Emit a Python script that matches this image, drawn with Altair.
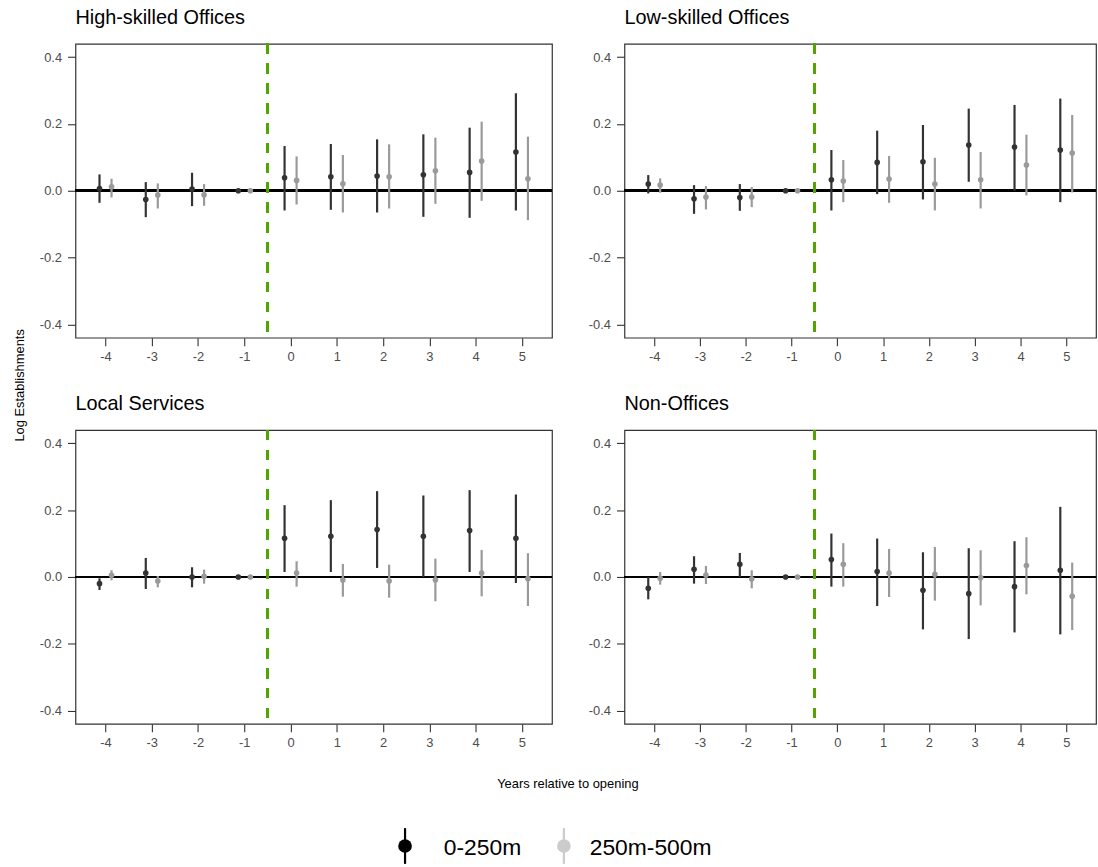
import altair as alt
import pandas as pd

# Event-study estimates: establishments near a new opening, by distance band
years = [-4, -3, -2, -1, 0, 1, 2, 3, 4, 5]
panels = ["High-skilled Offices", "Low-skilled Offices", "Local Services", "Non-Offices"]
groups = ["0-250m", "250m-500m"]

# point estimates, lower and upper 95% bounds (one list per panel and band)
est_hs_near = [0.007, -0.026, 0.005, 0.0, 0.039, 0.042, 0.044, 0.048, 0.055, 0.116]
lo_hs_near = [-0.036, -0.079, -0.046, 0.0, -0.059, -0.057, -0.065, -0.078, -0.081, -0.059]
hi_hs_near = [0.049, 0.026, 0.054, 0.0, 0.134, 0.140, 0.154, 0.169, 0.189, 0.292]
est_hs_far = [0.012, -0.013, -0.012, 0.0, 0.031, 0.021, 0.042, 0.060, 0.089, 0.036]
lo_hs_far = [-0.020, -0.053, -0.045, 0.0, -0.041, -0.065, -0.053, -0.039, -0.030, -0.088]
hi_hs_far = [0.036, 0.022, 0.020, 0.0, 0.103, 0.107, 0.139, 0.159, 0.207, 0.162]

est_ls_near = [0.020, -0.024, -0.020, 0.0, 0.033, 0.085, 0.087, 0.137, 0.131, 0.122]
lo_ls_near = [-0.008, -0.069, -0.060, 0.0, -0.059, -0.010, -0.026, 0.027, 0.000, -0.034]
hi_ls_near = [0.047, 0.017, 0.020, 0.0, 0.122, 0.180, 0.197, 0.246, 0.257, 0.276]
est_ls_far = [0.017, -0.019, -0.019, 0.0, 0.029, 0.035, 0.020, 0.033, 0.077, 0.113]
lo_ls_far = [-0.006, -0.056, -0.049, 0.0, -0.034, -0.036, -0.059, -0.053, -0.014, -0.005]
hi_ls_far = [0.037, 0.014, 0.011, 0.0, 0.092, 0.104, 0.099, 0.116, 0.168, 0.227]

est_lsv_near = [-0.020, 0.012, 0.000, 0.0, 0.116, 0.122, 0.142, 0.122, 0.139, 0.116]
lo_lsv_near = [-0.039, -0.036, -0.031, 0.0, 0.015, 0.015, 0.027, 0.000, 0.015, -0.018]
hi_lsv_near = [-0.004, 0.057, 0.029, 0.0, 0.215, 0.230, 0.257, 0.244, 0.260, 0.247]
est_lsv_far = [0.005, -0.012, 0.002, 0.0, 0.012, -0.009, -0.012, -0.009, 0.012, -0.005]
lo_lsv_far = [-0.010, -0.031, -0.020, 0.0, -0.029, -0.059, -0.062, -0.073, -0.058, -0.087]
hi_lsv_far = [0.020, 0.003, 0.022, 0.0, 0.047, 0.039, 0.037, 0.055, 0.081, 0.071]

est_no_near = [-0.034, 0.023, 0.038, 0.0, 0.052, 0.016, -0.040, -0.050, -0.029, 0.020]
lo_no_near = [-0.067, -0.020, 0.000, 0.0, -0.029, -0.087, -0.157, -0.186, -0.166, -0.172]
hi_no_near = [0.000, 0.062, 0.072, 0.0, 0.130, 0.115, 0.074, 0.086, 0.107, 0.210]
est_no_far = [-0.004, 0.006, -0.006, 0.0, 0.038, 0.012, 0.008, -0.002, 0.034, -0.058]
lo_no_far = [-0.023, -0.021, -0.034, 0.0, -0.029, -0.060, -0.071, -0.085, -0.052, -0.159]
hi_no_far = [0.015, 0.033, 0.020, 0.0, 0.101, 0.084, 0.090, 0.080, 0.119, 0.043]

series = {
    panels[0]: [(est_hs_near, lo_hs_near, hi_hs_near), (est_hs_far, lo_hs_far, hi_hs_far)],
    panels[1]: [(est_ls_near, lo_ls_near, hi_ls_near), (est_ls_far, lo_ls_far, hi_ls_far)],
    panels[2]: [(est_lsv_near, lo_lsv_near, hi_lsv_near), (est_lsv_far, lo_lsv_far, hi_lsv_far)],
    panels[3]: [(est_no_near, lo_no_near, hi_no_near), (est_no_far, lo_no_far, hi_no_far)],
}

rows = []
for panel, bands in series.items():
    for group, (est, lo, hi) in zip(groups, bands):
        for yr, e, l, h in zip(years, est, lo, hi):
            rows.append({"panel": panel, "group": group, "year": yr, "est": e, "lo": l, "hi": h})
df = pd.DataFrame(rows)

FONT = "Liberation Sans"
MARK_COLORS = ["#333333", "#9a9a9a"]
KEY_COLORS = ["#000000", "#cccccc"]

color_scale = alt.Scale(domain=groups, range=MARK_COLORS)
x_scale = alt.Scale(domain=[-4.65, 5.65], nice=False, zero=False)
y_scale = alt.Scale(domain=[-0.44, 0.44], nice=False, zero=False)

x_axis = alt.Axis(
    values=years, title=None, grid=False, domain=False, tickSize=8, tickWidth=1.1,
    tickColor="#333333", labelColor="#4d4d4d", labelFontSize=13, labelFont=FONT,
    labelPadding=5, labelExpr="replace(format(datum.value, 'd'), '\u2212', '-')",
)
y_axis = alt.Axis(
    values=[-0.4, -0.2, 0.0, 0.2, 0.4], title=None, grid=False, domain=False, tickSize=8,
    tickWidth=1.1, tickColor="#333333", labelColor="#4d4d4d", labelFontSize=13,
    labelFont=FONT, labelPadding=6,
    labelExpr="replace(format(datum.value, '.1f'), '\u2212', '-')",
)


def panel_chart(name, width):
    sub = df[df["panel"] == name]
    base = alt.Chart(sub).transform_calculate(
        xpos="datum.year + (datum.group === '0-250m' ? -0.13 : 0.13)"
    )
    zero = alt.Chart(sub).mark_rule(color="black", strokeWidth=2).encode(y=alt.datum(0, scale=y_scale, axis=y_axis))
    opening = alt.Chart(sub).mark_rule(color="#52a500", strokeWidth=2, strokeDash=[10, 10]).encode(
        x=alt.datum(-0.5, scale=x_scale, axis=x_axis)
    )
    bars = base.mark_rule(strokeWidth=2.2, strokeCap="butt").encode(
        x=alt.X("xpos:Q", scale=x_scale, axis=x_axis),
        y=alt.Y("lo:Q", scale=y_scale, axis=y_axis),
        y2="hi:Q",
        color=alt.Color("group:N", scale=color_scale, legend=None),
    )
    dots = base.mark_circle(size=32, opacity=1).encode(
        x=alt.X("xpos:Q", scale=x_scale, axis=x_axis),
        y=alt.Y("est:Q", scale=y_scale, axis=y_axis),
        color=alt.Color("group:N", scale=color_scale, legend=None),
    )
    return alt.layer(zero, opening, bars, dots).properties(
        width=width, height=296,
        title=alt.TitleParams(
            text=name, anchor="start", frame="group", fontSize=20, font=FONT,
            fontWeight="normal", color="black", offset=15,
        ),
    )


p1 = panel_chart(panels[0], 480)
p2 = panel_chart(panels[1], 475)
p3 = panel_chart(panels[2], 480)
p4 = panel_chart(panels[3], 475)

no_frame = alt.ViewBackground(stroke="transparent")

y_title = alt.Chart(pd.DataFrame({"t": ["Log Establishments"]})).mark_text(
    angle=270, fontSize=13, font=FONT, color="black", align="center", baseline="middle"
).encode(x=alt.value(17), y=alt.value(344), text="t:N").properties(width=32, height=600, view=no_frame)

# bottom strip: shared x-axis title and the key for the two distance bands
x_title = alt.Chart(pd.DataFrame({"t": ["Years relative to opening"]})).mark_text(
    fontSize=13, font=FONT, color="black", align="center", baseline="middle"
).encode(x=alt.value(496), y=alt.value(23), text="t:N")

legend_df = pd.DataFrame({"group": groups})
key_pos = alt.Scale(type="point", domain=groups, range=[332, 492], padding=0)
label_pos = alt.Scale(type="point", domain=groups, range=[371, 518], padding=0)
key_fill = alt.Scale(domain=groups, range=KEY_COLORS)

key_line = alt.Chart(legend_df).mark_rule(strokeWidth=2.2, strokeCap="butt").encode(
    x=alt.X("group:N", scale=key_pos, axis=None),
    y=alt.value(67), y2=alt.value(103),
    stroke=alt.Stroke("group:N", scale=key_fill, legend=None),
)
key_dot = alt.Chart(legend_df).mark_circle(size=190, opacity=1).encode(
    x=alt.X("group:N", scale=key_pos, axis=None),
    y=alt.value(85),
    fill=alt.Fill("group:N", scale=key_fill, legend=None),
)
key_text = alt.Chart(legend_df).mark_text(
    fontSize=23, font=FONT, color="black", align="left", baseline="middle"
).encode(
    x=alt.X("group:N", scale=label_pos, axis=None),
    y=alt.value(87),
    text="group:N",
)
key_marks = alt.layer(key_line, key_dot)
bottom = alt.layer(x_title, key_marks, key_text).resolve_scale(x="independent").properties(
    width=1000, height=104, view=no_frame
)

grid = alt.vconcat(
    alt.vconcat(
        alt.hconcat(p1, p2, spacing=33),
        alt.hconcat(p3, p4, spacing=33),
        spacing=29,
    ),
    bottom,
    spacing=10,
)

chart = alt.hconcat(y_title, grid, spacing=2).properties(
    padding={"left": 2, "top": 4, "right": 0, "bottom": 0}
).configure(background="white").configure_view(stroke="#333333", strokeWidth=1.2)

chart.save("out.html", embed_options={"renderer": "svg", "actions": False})
